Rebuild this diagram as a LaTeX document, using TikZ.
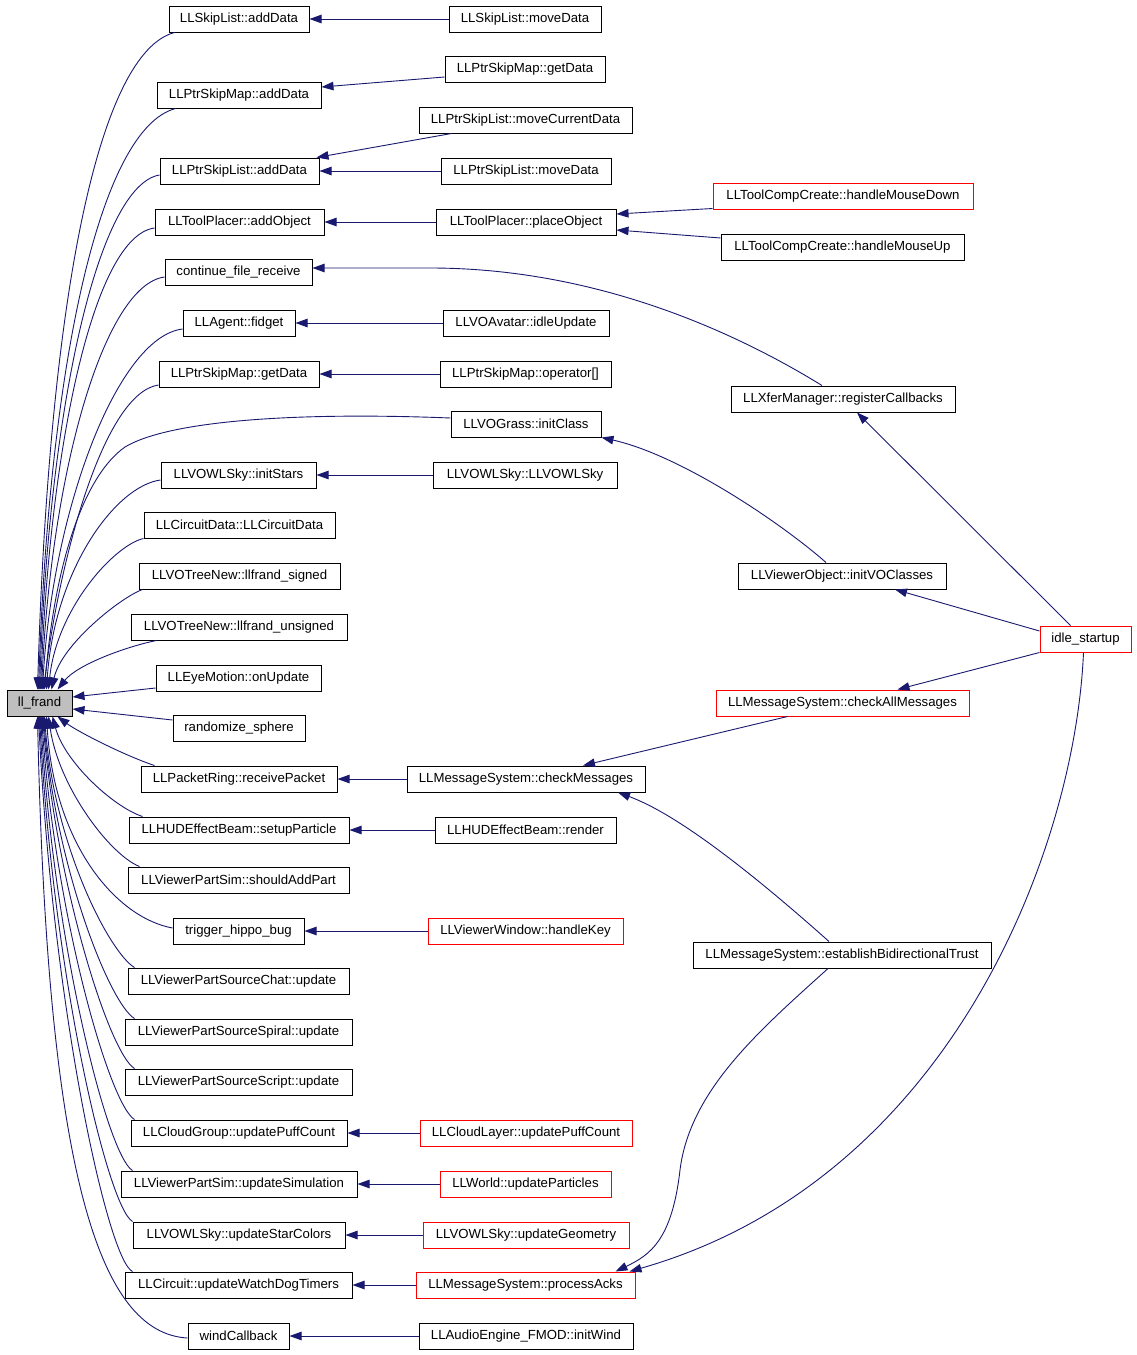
\documentclass[tikz,border=0pt]{standalone}
\usepackage{fontspec}
\setmainfont{Liberation Sans}
\usetikzlibrary{arrows.meta,calc}
\definecolor{edgeblue}{RGB}{25,25,112}
\definecolor{fillgray}{RGB}{191,191,191}
\begin{document}
\begin{tikzpicture}[x=1pt,y=-1pt,
  box/.style={draw=black,line width=1pt,minimum height=26pt,inner sep=0pt,font=\fontsize{13.2}{15}\selectfont},
  redbox/.style={box,draw=red},
  bw/.style={minimum width=#1pt},
  cedge/.style={draw=edgeblue,line width=0.9pt,-{Triangle[length=12pt,width=8.5pt]}}]
\fill[white] (0,0) rectangle (1136,1355);
\useasboundingbox (0,0) rectangle (1136,1355);

% root
\node[box,bw=65,fill=fillgray] (fr) at (39.5,703) {ll\_frand};

% column 1
\node[box,bw=140] (n1) at (239,19) {LLSkipList::addData};
\node[box,bw=164] (n2) at (239,95) {LLPtrSkipMap::addData};
\node[box,bw=159] (n3) at (239.5,171) {LLPtrSkipList::addData};
\node[box,bw=169] (n4) at (239.5,222) {LLToolPlacer::addObject};
\node[box,bw=147] (n5) at (238.5,272) {continue\_file\_receive};
\node[box,bw=112] (n6) at (239,323) {LLAgent::fidget};
\node[box,bw=160] (n7) at (239,374) {LLPtrSkipMap::getData};
\node[box,bw=155] (n8) at (238.5,475) {LLVOWLSky::initStars};
\node[box,bw=191] (n9) at (239.5,525) {LLCircuitData::LLCircuitData};
\node[box,bw=201] (n10) at (239.5,576) {LLVOTreeNew::llfrand\_signed};
\node[box,bw=216] (n11) at (239,627) {LLVOTreeNew::llfrand\_unsigned};
\node[box,bw=165] (n12) at (238.5,678) {LLEyeMotion::onUpdate};
\node[box,bw=132] (n13) at (239,728) {randomize\_sphere};
\node[box,bw=196] (n14) at (239,779) {LLPacketRing::receivePacket};
\node[box,bw=220] (n15) at (239,830) {LLHUDEffectBeam::setupParticle};
\node[box,bw=221] (n16) at (238.5,880) {LLViewerPartSim::shouldAddPart};
\node[box,bw=131] (n17) at (238.5,931) {trigger\_hippo\_bug};
\node[box,bw=221] (n18) at (238.5,981) {LLViewerPartSourceChat::update};
\node[box,bw=227] (n19) at (238.5,1032) {LLViewerPartSourceSpiral::update};
\node[box,bw=227] (n20) at (238.5,1082) {LLViewerPartSourceScript::update};
\node[box,bw=216] (n21) at (239,1133) {LLCloudGroup::updatePuffCount};
\node[box,bw=236] (n22) at (239,1184) {LLViewerPartSim::updateSimulation};
\node[box,bw=212] (n23) at (239,1235) {LLVOWLSky::updateStarColors};
\node[box,bw=227] (n24) at (238.5,1285) {LLCircuit::updateWatchDogTimers};
\node[box,bw=101] (n25) at (238.5,1336) {windCallback};

% column 2
\node[box,bw=152] (m1) at (525,19) {LLSkipList::moveData};
\node[box,bw=160] (m2) at (525,69) {LLPtrSkipMap::getData};
\node[box,bw=213] (m3) at (525.5,120) {LLPtrSkipList::moveCurrentData};
\node[box,bw=170] (m4) at (526,171) {LLPtrSkipList::moveData};
\node[box,bw=180] (m5) at (526,222) {LLToolPlacer::placeObject};
\node[box,bw=166] (m6) at (526,323) {LLVOAvatar::idleUpdate};
\node[box,bw=171] (m7) at (525.5,374) {LLPtrSkipMap::operator[]};
\node[box,bw=150] (m8) at (526,424) {LLVOGrass::initClass};
\node[box,bw=184] (m9) at (525,475) {LLVOWLSky::LLVOWLSky};
\node[box,bw=238] (m10) at (526,779) {LLMessageSystem::checkMessages};
\node[box,bw=181] (m11) at (525.5,830) {LLHUDEffectBeam::render};
\node[redbox,bw=195] (m12) at (525.5,931) {LLViewerWindow::handleKey};
\node[redbox,bw=212] (m13) at (526,1133) {LLCloudLayer::updatePuffCount};
\node[redbox,bw=171] (m14) at (525.5,1184) {LLWorld::updateParticles};
\node[redbox,bw=206] (m15) at (526,1235) {LLVOWLSky::updateGeometry};
\node[redbox,bw=219] (m16) at (525.5,1285) {LLMessageSystem::processAcks};
\node[box,bw=214] (m17) at (526,1336) {LLAudioEngine\_FMOD::initWind};

% column 3
\node[redbox,bw=260] (k1) at (843,196.5) {LLToolCompCreate::handleMouseDown};
\node[box,bw=243] (k2) at (842.5,247) {LLToolCompCreate::handleMouseUp};
\node[box,bw=224] (k3) at (843,399) {LLXferManager::registerCallbacks};
\node[box,bw=208] (k4) at (842,576) {LLViewerObject::initVOClasses};
\node[redbox,bw=253] (k5) at (842.5,703) {LLMessageSystem::checkAllMessages};
\node[box,bw=298] (k6) at (842,955) {LLMessageSystem::establishBidirectionalTrust};

% column 4
\node[redbox,bw=91] (idle) at (1085.5,639) {idle\_startup};

% straight edges col2 -> col1
\draw[cedge] (m1) -- (n1);
\draw[cedge] ($(m2.west)+(0,8)$) -- ($(n2.east)+(0,-8)$);
\draw[cedge] ($(m3.south west)+(33,0)$) -- ($(n3.north east)+(-3,0)$);
\draw[cedge] (m4) -- (n3);
\draw[cedge] (m5) -- (n4);
\draw[cedge] (m6) -- (n6);
\draw[cedge] (m7) -- (n7);
\draw[cedge] (m9) -- (n8);
\draw[cedge] (m10) -- (n14);
\draw[cedge] (m11) -- (n15);
\draw[cedge] (m12) -- (n17);
\draw[cedge] (m13) -- (n21);
\draw[cedge] (m14) -- (n22);
\draw[cedge] (m15) -- (n23);
\draw[cedge] (m16) -- (n24);
\draw[cedge] (m17) -- (n25);

% col3 -> col2 / col1
\draw[cedge] ($(k1.west)+(0,12)$) -- ($(m5.east)+(0,-8)$);
\draw[cedge] ($(k2.west)+(0,-9)$) -- ($(m5.east)+(0,8)$);
\draw[cedge] ($(k3.north)+(-21,0)$) .. controls (740,335) and (600,268) .. (430,268) -- ($(n5.east)+(0,-4)$);
\draw[cedge] ($(k4.north)+(-16,0)$) .. controls (780,522) and (680,455) .. (m8.south east);
\draw[cedge] ($(k5.south)+(-55,0)$) -- ($(m10.north)+(57,0)$);
\draw[cedge] ($(k6.north)+(-13,0)$) .. controls (760,880) and (680,815) .. ($(m10.south)+(92,0)$);
\draw[cedge] ($(k6.south)+(-14,0)$) .. controls (760,1030) and (690,1090) .. (680,1170) .. controls (672,1240) and (650,1255) .. ($(m16.north east)+(-20,0)$);

% idle_startup edges
\draw[cedge] ($(idle.north)+(-15,0)$) -- ($(k3.south)+(14,0)$);
\draw[cedge] ($(idle.west)+(0,-8)$) -- ($(k4.south)+(53,0)$);
\draw[cedge] (idle.south west) -- ($(k5.north)+(55,0)$);
\draw[cedge] ($(idle.south)+(-2,0)$) .. controls (1075,850) and (950,1180) .. ($(m16.north east)+(-6,0)$);

% fan into ll_frand (upper)
\draw[cedge] ($(n1.south west)+(6,0)$) .. controls +(-75,20) and +(12,-400) .. ($(fr.north west)+(31,0)$);
\draw[cedge] ($(n2.south west)+(19,0)$) .. controls +(-75,20) and +(11,-330) .. ($(fr.north west)+(32,0)$);
\draw[cedge] ($(n3.west)+(0,4)$) .. controls +(-60,10) and +(10,-290) .. ($(fr.north west)+(33,0)$);
\draw[cedge] ($(n4.west)+(0,6)$) .. controls +(-60,8) and +(10,-250) .. ($(fr.north west)+(34,0)$);
\draw[cedge] ($(n5.west)+(0,5)$) .. controls +(-60,8) and +(10,-220) .. ($(fr.north west)+(35,0)$);
\draw[cedge] ($(n6.west)+(0,6)$) .. controls +(-65,8) and +(10,-180) .. ($(fr.north west)+(36,0)$);
\draw[cedge] ($(n7.west)+(0,11)$) .. controls +(-55,8) and +(16,-130) .. ($(fr.north west)+(37,0)$);
\draw[cedge] ($(m8.west)+(0,-6)$) .. controls (300,412) and (170,420) .. (125,447) .. controls (85,475) and (55,560) .. ($(fr.north west)+(38,0)$);
\draw[cedge] ($(n8.west)+(0,5)$) .. controls +(-45,6) and +(8,-120) .. ($(fr.north west)+(40,0)$);
\draw[cedge] (n9.south west) .. controls +(-30,7) and +(8,-80) .. ($(fr.north west)+(42,0)$);
\draw[cedge] ($(n10.south west)+(4,0)$) .. controls +(-22,8) and +(10,-45) .. ($(fr.north west)+(45,0)$);
\draw[cedge] ($(n11.south west)+(26,0)$) .. controls +(-30,6) and +(20,-25) .. ($(fr.north west)+(51,0)$);
\draw[cedge] ($(n12.west)+(0,10)$) -- ($(fr.east)+(0,-6)$);

% fan into ll_frand (lower)
\draw[cedge] ($(n13.west)+(0,-8)$) -- ($(fr.east)+(0,6)$);
\draw[cedge] ($(n14.north west)+(14,0)$) .. controls +(-30,-10) and +(20,15) .. ($(fr.south west)+(51,0)$);
\draw[cedge] ($(n15.north west)+(14,0)$) .. controls +(-30,-10) and +(12,45) .. ($(fr.south west)+(46,0)$);
\draw[cedge] ($(n16.north west)+(12,0)$) .. controls +(-30,-12) and +(10,70) .. ($(fr.south west)+(42,0)$);
\draw[cedge] ($(n17.west)+(0,-3)$) .. controls +(-55,-10) and +(8,130) .. ($(fr.south west)+(40,0)$);
\draw[cedge] ($(n18.north west)+(7,0)$) .. controls +(-25,-15) and +(10,130) .. ($(fr.south west)+(38,0)$);
\draw[cedge] ($(n19.north west)+(10,0)$) .. controls +(-25,-15) and +(12,150) .. ($(fr.south west)+(37,0)$);
\draw[cedge] ($(n20.north west)+(10,0)$) .. controls +(-25,-15) and +(14,170) .. ($(fr.south west)+(36,0)$);
\draw[cedge] ($(n21.north west)+(4,0)$) .. controls +(-25,-15) and +(14,200) .. ($(fr.south west)+(35,0)$);
\draw[cedge] ($(n22.north west)+(12,0)$) .. controls +(-25,-15) and +(14,230) .. ($(fr.south west)+(34,0)$);
\draw[cedge] (n23.north west) .. controls +(-25,-15) and +(14,260) .. ($(fr.south west)+(33,0)$);
\draw[cedge] ($(n24.north west)+(8,0)$) .. controls +(-25,-12) and +(14,290) .. ($(fr.south west)+(32,0)$);
\draw[cedge] ($(n25.west)+(0,2)$) .. controls +(-88,-5) and +(10,460) .. ($(fr.south west)+(31,0)$);
\end{tikzpicture}
\end{document}
